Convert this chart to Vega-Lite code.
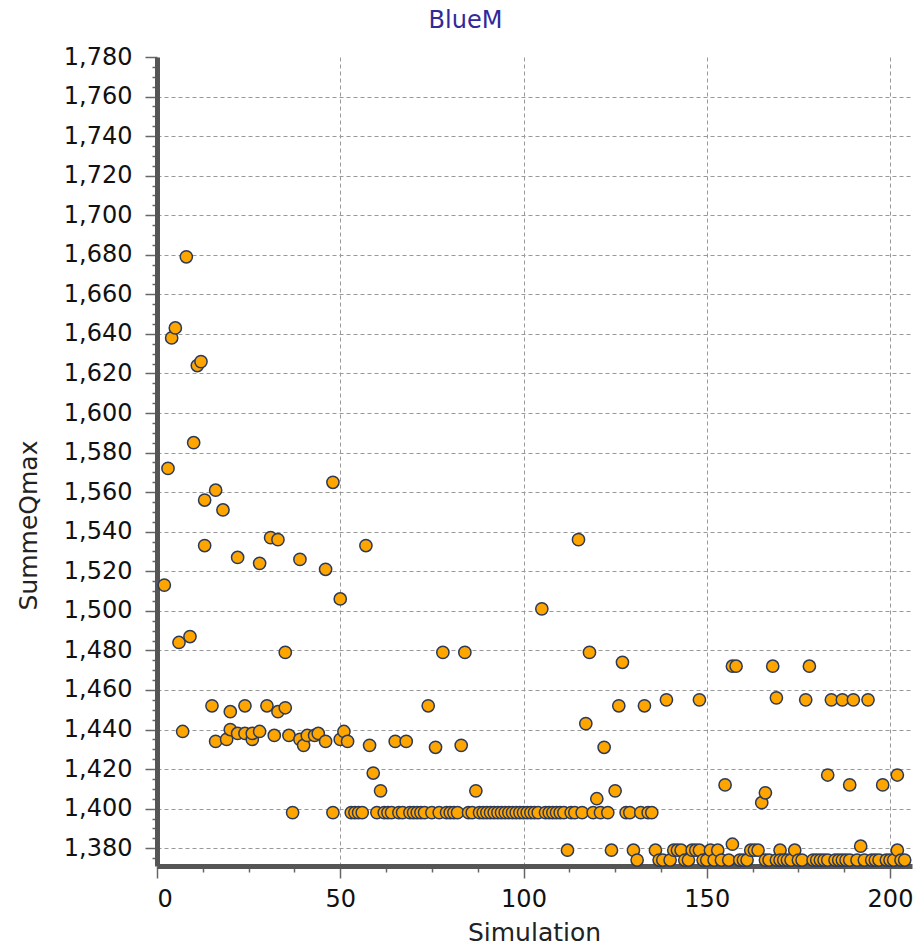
{
  "$schema": "https://vega.github.io/schema/vega-lite/v6.json",
  "width": 755,
  "height": 809,
  "autosize": {"type": "none"},
  "padding": {"left": 157, "top": 57, "right": 8, "bottom": 79},
  "background": "white",
  "title": {"text": "BlueM", "color": "#33289a", "font": "DejaVu Sans", "fontSize": 24, "fontWeight": "normal", "anchor": "middle", "frame": "group", "dx": -69, "offset": -12, "baseline": "bottom"},
  "config": {"view": {"stroke": null}},
  "data": {"values": [
    {"Simulation": 2, "SummeQmax": 1513}, {"Simulation": 3, "SummeQmax": 1572}, {"Simulation": 4, "SummeQmax": 1638}, {"Simulation": 5, "SummeQmax": 1643},
    {"Simulation": 6, "SummeQmax": 1484}, {"Simulation": 7, "SummeQmax": 1439}, {"Simulation": 8, "SummeQmax": 1679}, {"Simulation": 9, "SummeQmax": 1487},
    {"Simulation": 10, "SummeQmax": 1585}, {"Simulation": 11, "SummeQmax": 1624}, {"Simulation": 12, "SummeQmax": 1626}, {"Simulation": 13, "SummeQmax": 1533},
    {"Simulation": 13, "SummeQmax": 1556}, {"Simulation": 15, "SummeQmax": 1452}, {"Simulation": 16, "SummeQmax": 1561}, {"Simulation": 16, "SummeQmax": 1434},
    {"Simulation": 18, "SummeQmax": 1551}, {"Simulation": 19, "SummeQmax": 1435}, {"Simulation": 20, "SummeQmax": 1440}, {"Simulation": 20, "SummeQmax": 1449},
    {"Simulation": 22, "SummeQmax": 1527}, {"Simulation": 22, "SummeQmax": 1438}, {"Simulation": 24, "SummeQmax": 1452}, {"Simulation": 24, "SummeQmax": 1438},
    {"Simulation": 26, "SummeQmax": 1435}, {"Simulation": 26, "SummeQmax": 1438}, {"Simulation": 28, "SummeQmax": 1439}, {"Simulation": 28, "SummeQmax": 1524},
    {"Simulation": 30, "SummeQmax": 1452}, {"Simulation": 31, "SummeQmax": 1537}, {"Simulation": 32, "SummeQmax": 1437}, {"Simulation": 33, "SummeQmax": 1536},
    {"Simulation": 33, "SummeQmax": 1449}, {"Simulation": 35, "SummeQmax": 1451}, {"Simulation": 35, "SummeQmax": 1479}, {"Simulation": 36, "SummeQmax": 1437},
    {"Simulation": 37, "SummeQmax": 1398}, {"Simulation": 39, "SummeQmax": 1526}, {"Simulation": 39, "SummeQmax": 1435}, {"Simulation": 40, "SummeQmax": 1432},
    {"Simulation": 41, "SummeQmax": 1437}, {"Simulation": 43, "SummeQmax": 1437}, {"Simulation": 44, "SummeQmax": 1438}, {"Simulation": 46, "SummeQmax": 1521},
    {"Simulation": 46, "SummeQmax": 1434}, {"Simulation": 48, "SummeQmax": 1565}, {"Simulation": 48, "SummeQmax": 1398}, {"Simulation": 50, "SummeQmax": 1506},
    {"Simulation": 50, "SummeQmax": 1435}, {"Simulation": 51, "SummeQmax": 1439}, {"Simulation": 52, "SummeQmax": 1434},
    {"Simulation": 53, "SummeQmax": 1398}, {"Simulation": 54, "SummeQmax": 1398}, {"Simulation": 55, "SummeQmax": 1398}, {"Simulation": 56, "SummeQmax": 1398},
    {"Simulation": 57, "SummeQmax": 1533}, {"Simulation": 58, "SummeQmax": 1432}, {"Simulation": 59, "SummeQmax": 1418}, {"Simulation": 60, "SummeQmax": 1398},
    {"Simulation": 61, "SummeQmax": 1409}, {"Simulation": 62, "SummeQmax": 1398}, {"Simulation": 63, "SummeQmax": 1398}, {"Simulation": 64, "SummeQmax": 1398},
    {"Simulation": 65, "SummeQmax": 1434}, {"Simulation": 66, "SummeQmax": 1398}, {"Simulation": 67, "SummeQmax": 1398}, {"Simulation": 68, "SummeQmax": 1434},
    {"Simulation": 69, "SummeQmax": 1398}, {"Simulation": 70, "SummeQmax": 1398}, {"Simulation": 71, "SummeQmax": 1398}, {"Simulation": 72, "SummeQmax": 1398},
    {"Simulation": 73, "SummeQmax": 1398}, {"Simulation": 74, "SummeQmax": 1452}, {"Simulation": 75, "SummeQmax": 1398}, {"Simulation": 76, "SummeQmax": 1431},
    {"Simulation": 77, "SummeQmax": 1398}, {"Simulation": 78, "SummeQmax": 1479}, {"Simulation": 79, "SummeQmax": 1398}, {"Simulation": 80, "SummeQmax": 1398},
    {"Simulation": 81, "SummeQmax": 1398}, {"Simulation": 82, "SummeQmax": 1398}, {"Simulation": 83, "SummeQmax": 1432}, {"Simulation": 84, "SummeQmax": 1479},
    {"Simulation": 85, "SummeQmax": 1398}, {"Simulation": 86, "SummeQmax": 1398}, {"Simulation": 87, "SummeQmax": 1409}, {"Simulation": 88, "SummeQmax": 1398},
    {"Simulation": 89, "SummeQmax": 1398}, {"Simulation": 90, "SummeQmax": 1398}, {"Simulation": 91, "SummeQmax": 1398}, {"Simulation": 92, "SummeQmax": 1398},
    {"Simulation": 93, "SummeQmax": 1398}, {"Simulation": 94, "SummeQmax": 1398}, {"Simulation": 95, "SummeQmax": 1398}, {"Simulation": 96, "SummeQmax": 1398},
    {"Simulation": 97, "SummeQmax": 1398}, {"Simulation": 98, "SummeQmax": 1398}, {"Simulation": 99, "SummeQmax": 1398}, {"Simulation": 100, "SummeQmax": 1398},
    {"Simulation": 101, "SummeQmax": 1398}, {"Simulation": 102, "SummeQmax": 1398}, {"Simulation": 103, "SummeQmax": 1398}, {"Simulation": 104, "SummeQmax": 1398},
    {"Simulation": 105, "SummeQmax": 1501}, {"Simulation": 106, "SummeQmax": 1398}, {"Simulation": 107, "SummeQmax": 1398}, {"Simulation": 108, "SummeQmax": 1398},
    {"Simulation": 109, "SummeQmax": 1398}, {"Simulation": 110, "SummeQmax": 1398}, {"Simulation": 111, "SummeQmax": 1398}, {"Simulation": 112, "SummeQmax": 1379},
    {"Simulation": 113, "SummeQmax": 1398}, {"Simulation": 114, "SummeQmax": 1398}, {"Simulation": 115, "SummeQmax": 1536}, {"Simulation": 116, "SummeQmax": 1398},
    {"Simulation": 117, "SummeQmax": 1443}, {"Simulation": 118, "SummeQmax": 1479}, {"Simulation": 119, "SummeQmax": 1398}, {"Simulation": 120, "SummeQmax": 1405},
    {"Simulation": 121, "SummeQmax": 1398}, {"Simulation": 122, "SummeQmax": 1431}, {"Simulation": 123, "SummeQmax": 1398}, {"Simulation": 124, "SummeQmax": 1379},
    {"Simulation": 125, "SummeQmax": 1409}, {"Simulation": 126, "SummeQmax": 1452}, {"Simulation": 127, "SummeQmax": 1474}, {"Simulation": 128, "SummeQmax": 1398},
    {"Simulation": 129, "SummeQmax": 1398}, {"Simulation": 130, "SummeQmax": 1379}, {"Simulation": 131, "SummeQmax": 1374}, {"Simulation": 132, "SummeQmax": 1398},
    {"Simulation": 133, "SummeQmax": 1452}, {"Simulation": 134, "SummeQmax": 1398}, {"Simulation": 135, "SummeQmax": 1398},
    {"Simulation": 136, "SummeQmax": 1379}, {"Simulation": 137, "SummeQmax": 1374}, {"Simulation": 138, "SummeQmax": 1374}, {"Simulation": 139, "SummeQmax": 1455},
    {"Simulation": 140, "SummeQmax": 1374}, {"Simulation": 141, "SummeQmax": 1379}, {"Simulation": 142, "SummeQmax": 1379}, {"Simulation": 143, "SummeQmax": 1379},
    {"Simulation": 144, "SummeQmax": 1374}, {"Simulation": 145, "SummeQmax": 1374}, {"Simulation": 146, "SummeQmax": 1379}, {"Simulation": 147, "SummeQmax": 1379},
    {"Simulation": 148, "SummeQmax": 1455}, {"Simulation": 148, "SummeQmax": 1379}, {"Simulation": 149, "SummeQmax": 1374}, {"Simulation": 150, "SummeQmax": 1374},
    {"Simulation": 151, "SummeQmax": 1379}, {"Simulation": 152, "SummeQmax": 1374}, {"Simulation": 153, "SummeQmax": 1379}, {"Simulation": 154, "SummeQmax": 1374},
    {"Simulation": 155, "SummeQmax": 1412}, {"Simulation": 156, "SummeQmax": 1374}, {"Simulation": 157, "SummeQmax": 1472}, {"Simulation": 157, "SummeQmax": 1382},
    {"Simulation": 158, "SummeQmax": 1472}, {"Simulation": 159, "SummeQmax": 1374}, {"Simulation": 160, "SummeQmax": 1374}, {"Simulation": 161, "SummeQmax": 1374},
    {"Simulation": 162, "SummeQmax": 1379}, {"Simulation": 163, "SummeQmax": 1379}, {"Simulation": 164, "SummeQmax": 1379}, {"Simulation": 165, "SummeQmax": 1403},
    {"Simulation": 166, "SummeQmax": 1408}, {"Simulation": 166, "SummeQmax": 1374}, {"Simulation": 167, "SummeQmax": 1374}, {"Simulation": 168, "SummeQmax": 1472},
    {"Simulation": 169, "SummeQmax": 1456}, {"Simulation": 169, "SummeQmax": 1374}, {"Simulation": 170, "SummeQmax": 1379}, {"Simulation": 170, "SummeQmax": 1374},
    {"Simulation": 171, "SummeQmax": 1374}, {"Simulation": 172, "SummeQmax": 1374}, {"Simulation": 173, "SummeQmax": 1374}, {"Simulation": 174, "SummeQmax": 1379},
    {"Simulation": 175, "SummeQmax": 1374}, {"Simulation": 176, "SummeQmax": 1374}, {"Simulation": 177, "SummeQmax": 1455}, {"Simulation": 178, "SummeQmax": 1472},
    {"Simulation": 179, "SummeQmax": 1374}, {"Simulation": 180, "SummeQmax": 1374}, {"Simulation": 181, "SummeQmax": 1374}, {"Simulation": 182, "SummeQmax": 1374},
    {"Simulation": 183, "SummeQmax": 1417}, {"Simulation": 183, "SummeQmax": 1374}, {"Simulation": 184, "SummeQmax": 1455}, {"Simulation": 185, "SummeQmax": 1374},
    {"Simulation": 186, "SummeQmax": 1374}, {"Simulation": 187, "SummeQmax": 1455}, {"Simulation": 187, "SummeQmax": 1374}, {"Simulation": 188, "SummeQmax": 1374},
    {"Simulation": 189, "SummeQmax": 1412}, {"Simulation": 189, "SummeQmax": 1374}, {"Simulation": 190, "SummeQmax": 1455}, {"Simulation": 191, "SummeQmax": 1374},
    {"Simulation": 192, "SummeQmax": 1381}, {"Simulation": 193, "SummeQmax": 1374}, {"Simulation": 194, "SummeQmax": 1455}, {"Simulation": 195, "SummeQmax": 1374},
    {"Simulation": 196, "SummeQmax": 1374}, {"Simulation": 197, "SummeQmax": 1374}, {"Simulation": 198, "SummeQmax": 1412}, {"Simulation": 199, "SummeQmax": 1374},
    {"Simulation": 200, "SummeQmax": 1374}, {"Simulation": 201, "SummeQmax": 1374}, {"Simulation": 202, "SummeQmax": 1417}, {"Simulation": 202, "SummeQmax": 1379},
    {"Simulation": 203, "SummeQmax": 1374}, {"Simulation": 204, "SummeQmax": 1374}
  ]},
  "mark": {"type": "circle", "size": 150, "color": "#FFA500", "stroke": "#2b3a58", "strokeWidth": 1.5, "opacity": 1},
  "encoding": {
    "x": {
      "field": "Simulation", "type": "quantitative",
      "scale": {"domain": [0, 206], "nice": false, "zero": false},
      "axis": {
        "title": "Simulation",
        "values": [0, 12.5, 25, 37.5, 50, 62.5, 75, 87.5, 100, 112.5, 125, 137.5, 150, 162.5, 175, 187.5, 200],
        "labelExpr": "datum.value % 50 === 0 ? format(datum.value, 'd') : ''",
        "labelOverlap": false,
        "labelFont": "DejaVu Sans", "labelFontSize": 24, "labelColor": "#111111", "labelPadding": 9,
        "titleFont": "DejaVu Sans", "titleFontSize": 25, "titleFontWeight": "normal", "titleColor": "#222222",
        "titleX": 377, "titleY": 66, "titleBaseline": "middle", "titleAlign": "center",
        "domainColor": "#555555", "domainWidth": 5,
        "tickColor": "#666666", "tickWidth": 1.5,
        "tickSize": {"condition": {"test": "datum.value % 50 === 0", "value": 12}, "value": 6},
        "grid": true, "gridColor": "#999999", "gridDash": [4, 3], "gridWidth": 1,
        "gridOpacity": {"condition": {"test": "datum.value % 50 === 0 && datum.value > 0", "value": 1}, "value": 0}
      }
    },
    "y": {
      "field": "SummeQmax", "type": "quantitative",
      "scale": {"domain": [1371, 1780], "nice": false, "zero": false},
      "axis": {
        "title": "SummeQmax",
        "values": [1375, 1380, 1385, 1390, 1395, 1400, 1405, 1410, 1415, 1420, 1425, 1430, 1435, 1440, 1445, 1450, 1455, 1460, 1465, 1470, 1475, 1480, 1485, 1490, 1495, 1500, 1505, 1510, 1515, 1520, 1525, 1530, 1535, 1540, 1545, 1550, 1555, 1560, 1565, 1570, 1575, 1580, 1585, 1590, 1595, 1600, 1605, 1610, 1615, 1620, 1625, 1630, 1635, 1640, 1645, 1650, 1655, 1660, 1665, 1670, 1675, 1680, 1685, 1690, 1695, 1700, 1705, 1710, 1715, 1720, 1725, 1730, 1735, 1740, 1745, 1750, 1755, 1760, 1765, 1770, 1775, 1780],
        "labelExpr": "datum.value % 20 === 0 ? format(datum.value, ',') : ''",
        "labelOverlap": false,
        "labelFont": "DejaVu Sans", "labelFontSize": 24, "labelColor": "#111111", "labelPadding": 13,
        "titleFont": "DejaVu Sans", "titleFontSize": 25, "titleFontWeight": "normal", "titleColor": "#222222",
        "titleX": -129, "titleY": 468, "titleAngle": 270, "titleBaseline": "middle", "titleAlign": "center",
        "domainColor": "#555555", "domainWidth": 5,
        "tickColor": "#666666", "tickWidth": 1.5,
        "tickSize": {"condition": {"test": "datum.value % 20 === 0", "value": 12}, "value": 5},
        "grid": true, "gridColor": "#999999", "gridDash": [4, 3], "gridWidth": 1,
        "gridOpacity": {"condition": {"test": "datum.value % 20 === 0 && datum.value < 1780", "value": 1}, "value": 0}
      }
    }
  }
}
